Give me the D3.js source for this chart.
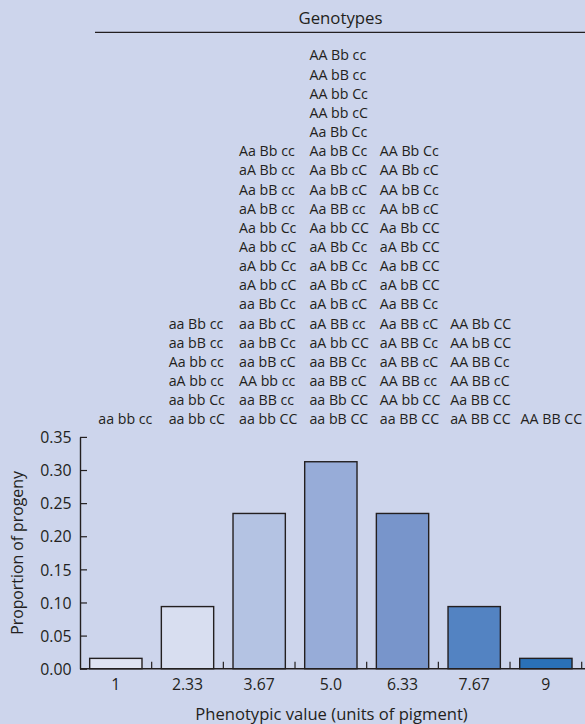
<!DOCTYPE html>
<html>
<head>
<meta charset="utf-8">
<script src="https://cdn.jsdelivr.net/npm/d3@7"></script>
<style>
  html, body { margin: 0; padding: 0; background: #cdd5ec; }
  svg { display: block; }
  text { font-family: "Open Sans", "Noto Sans", sans-serif; fill: #231f20; }
</style>
</head>
<body>
<svg id="chart" width="585" height="724"></svg>
<script>
// Phenotypic classes (units of pigment) and the share of progeny in each
const phenotypes = ["1", "2.33", "3.67", "5.0", "6.33", "7.67", "9"];
const proportions = [0.0156, 0.0938, 0.2344, 0.3125, 0.2344, 0.0938, 0.0156];
const barColors = ["#dfe3f2", "#d8def0", "#b4c3e3", "#97acd8", "#7895cb", "#5383c2", "#2a71b8"];
const yTicks = [0, 0.05, 0.10, 0.15, 0.20, 0.25, 0.30, 0.35];

// Genotypes that give each phenotypic class
const genotypes1 = ["aa bb cc"];
const genotypes2 = ["aa Bb cc", "aa bB cc", "Aa bb cc", "aA bb cc", "aa bb Cc", "aa bb cC"];
const genotypes3 = ["Aa Bb cc", "aA Bb cc", "Aa bB cc", "aA bB cc", "Aa bb Cc", "Aa bb cC",
  "aA bb Cc", "aA bb cC", "aa Bb Cc", "aa Bb cC", "aa bB Cc", "aa bB cC",
  "AA bb cc", "aa BB cc", "aa bb CC"];
const genotypes4 = ["AA Bb cc", "AA bB cc", "AA bb Cc", "AA bb cC", "Aa Bb Cc", "Aa bB Cc",
  "Aa Bb cC", "Aa bB cC", "Aa BB cc", "Aa bb CC", "aA Bb Cc", "aA bB Cc",
  "aA Bb cC", "aA bB cC", "aA BB cc", "aA bb CC", "aa BB Cc", "aa BB cC",
  "aa Bb CC", "aa bB CC"];
const genotypes5 = ["AA Bb Cc", "AA Bb cC", "AA bB Cc", "AA bB cC", "Aa Bb CC", "aA Bb CC",
  "Aa bB CC", "aA bB CC", "Aa BB Cc", "Aa BB cC", "aA BB Cc", "aA BB cC",
  "AA BB cc", "AA bb CC", "aa BB CC"];
const genotypes6 = ["AA Bb CC", "AA bB CC", "AA BB Cc", "AA BB cC", "Aa BB CC", "aA BB CC"];
const genotypes7 = ["AA BB CC"];
const genotypeColumns = [genotypes1, genotypes2, genotypes3, genotypes4, genotypes5, genotypes6, genotypes7];

const svg = d3.select("#chart");
const ink = "#231f20";

const plot = { left: 80, right: 581.7, top: 436.9, bottom: 668.7 };

const x = d3.scaleBand()
  .domain(phenotypes)
  .range([plot.left, plot.right])
  .paddingInner(0.27)
  .paddingOuter(0.135);

const y = d3.scaleLinear()
  .domain([0, 0.35])
  .range([plot.bottom, plot.top]);

// Columns of genotype labels, left-aligned and stacked from the bottom row up
const gx = d3.scaleBand()
  .domain(phenotypes)
  .range([98.3, 591])
  .padding(0);

const rowStep = 19.15;
const lastBaseline = 424.3;

// Header
svg.append("text")
  .attr("x", 340.5)
  .attr("y", 24.3)
  .attr("text-anchor", "middle")
  .attr("font-size", 16.8)
  .text("Genotypes");

svg.append("line")
  .attr("x1", 95).attr("x2", 585)
  .attr("y1", 32.3).attr("y2", 32.3)
  .attr("stroke", ink).attr("stroke-width", 1.3);

const cols = svg.append("g").attr("class", "genotypes")
  .selectAll("g")
  .data(genotypeColumns)
  .join("g");

cols.selectAll("text")
  .data((list, i) => list.map((g, j) => ({ g, i, j, n: list.length })))
  .join("text")
  .attr("x", d => gx(phenotypes[d.i]))
  .attr("y", d => lastBaseline - (d.n - 1 - d.j) * rowStep)
  .attr("font-size", 14.2)
  .text(d => d.g);

// Bars
svg.append("g").selectAll("rect")
  .data(phenotypes)
  .join("rect")
  .attr("x", d => x(d))
  .attr("width", x.bandwidth())
  .attr("y", (d, i) => y(proportions[i]))
  .attr("height", (d, i) => y(0) - y(proportions[i]))
  .attr("fill", (d, i) => barColors[i])
  .attr("stroke", ink)
  .attr("stroke-width", 1.4);

// Y axis with inward ticks
const yAxis = svg.append("g")
  .attr("transform", `translate(${plot.left},0)`)
  .call(d3.axisRight(y).tickValues(yTicks).tickFormat(d3.format(".2f")).tickSize(7).tickSizeOuter(0));
yAxis.select(".domain").attr("stroke", ink).attr("stroke-width", 1.4);
yAxis.selectAll(".tick line").attr("stroke", ink).attr("stroke-width", 1.2);
yAxis.selectAll(".tick text")
  .attr("x", -8.5)
  .attr("text-anchor", "end")
  .attr("dy", "0.36em")
  .attr("font-size", 15.8)
  .attr("fill", ink)
  .style("font-family", "'Open Sans', 'Noto Sans', sans-serif");

// X axis: baseline with short upward ticks between classes, labels under each bar
const xAxisG = svg.append("g").attr("class", "x-axis");
xAxisG.append("line")
  .attr("x1", plot.left).attr("x2", 585)
  .attr("y1", y(0)).attr("y2", y(0))
  .attr("stroke", ink).attr("stroke-width", 1.4);

const step = x.step();
xAxisG.selectAll("line.sep")
  .data(phenotypes)
  .join("line")
  .attr("class", "sep")
  .attr("x1", d => x(d) - x.paddingOuter() * step + step)
  .attr("x2", d => x(d) - x.paddingOuter() * step + step)
  .attr("y1", y(0))
  .attr("y2", y(0) - 7)
  .attr("stroke", ink).attr("stroke-width", 1.2);

xAxisG.selectAll("text")
  .data(phenotypes)
  .join("text")
  .attr("x", d => x(d) + x.bandwidth() / 2)
  .attr("y", 690)
  .attr("text-anchor", "middle")
  .attr("font-size", 15.8)
  .text(d => d);

// Axis titles
svg.append("text")
  .attr("x", 331.5)
  .attr("y", 719.5)
  .attr("text-anchor", "middle")
  .attr("font-size", 16.6)
  .text("Phenotypic value (units of pigment)");

svg.append("text")
  .attr("transform", "translate(23,553) rotate(-90)")
  .attr("text-anchor", "middle")
  .attr("font-size", 15.8)
  .text("Proportion of progeny");
</script>
</body>
</html>
